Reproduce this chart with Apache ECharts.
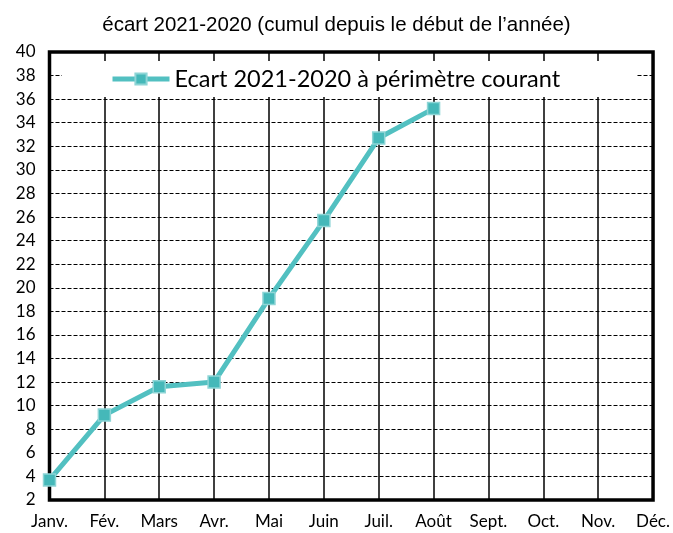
<!DOCTYPE html>
<html>
<head>
<meta charset="utf-8">
<script src="https://cdn.jsdelivr.net/npm/echarts@6/dist/echarts.min.js"></script>
<style>html,body{margin:0;padding:0;background:#fff}#c{width:673px;height:533px}</style>
</head>
<body>
<div id="c"></div>
<script>
const titleText = "écart 2021-2020 (cumul depuis le début de l\u2019année)";
const seriesName = "Ecart 2021-2020 à périmètre courant";
const months = ["Janv.", "Fév.", "Mars", "Avr.", "Mai", "Juin", "Juil.", "Août", "Sept.", "Oct.", "Nov.", "Déc."];
const ecart = [3.7, 9.2, 11.6, 12.0, 19.1, 25.7, 32.7, 35.2];
const yMin = 2, yMax = 40, yStep = 2;

const chart = echarts.init(document.getElementById('c'), null, {renderer: 'canvas'});
chart.setOption({
  animation: false,
  backgroundColor: '#fff',
  title: {
    text: titleText,
    left: 'center',
    top: 10,
    textStyle: {fontFamily: '"Liberation Sans Narrow", "Liberation Sans", sans-serif', fontSize: 20.5, fontWeight: 'normal', color: '#000'}
  },
  legend: {
    left: 62, top: 61,
    padding: [6, 76, 6, 48],
    backgroundColor: '#fff',
    itemWidth: 57, itemHeight: 14, itemGap: 10,
    lineStyle: {width: 5},
    textStyle: {fontFamily: 'Lato, sans-serif', fontSize: 23.5, color: '#000'},
    data: [{name: seriesName}]
  },
  grid: {
    left: 49.5, right: 19.5, top: 52, bottom: 33,
    show: true, borderColor: '#000', borderWidth: 3.5, backgroundColor: 'transparent'
  },
  xAxis: {
    type: 'category', data: months, boundaryGap: false,
    axisLine: {show: false}, axisTick: {show: false},
    axisLabel: {color: '#000', fontFamily: 'Lato, sans-serif', fontSize: 17, margin: 13, interval: 0},
    splitLine: {show: true, lineStyle: {color: '#000', width: 1.5, type: 'solid'}}
  },
  yAxis: {
    type: 'value', min: yMin, max: yMax, interval: yStep,
    axisLine: {show: false}, axisTick: {show: false},
    axisLabel: {color: '#000', fontFamily: 'Lato, sans-serif', fontSize: 17, margin: 14},
    splitLine: {show: true, lineStyle: {color: '#000', width: 1, type: [4, 2]}}
  },
  series: [{
    name: seriesName, type: 'line', data: ecart,
    symbol: 'rect', symbolSize: 12,
    lineStyle: {color: '#52c0c1', width: 5},
    itemStyle: {color: '#45b8b9', borderColor: '#8ed5d6', borderWidth: 1.5},
    z: 5
  }]
});
</script>
</body>
</html>
